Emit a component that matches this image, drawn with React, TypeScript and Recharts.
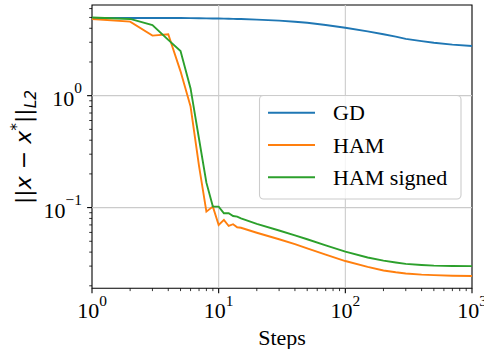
import { LineChart, Line, XAxis, YAxis, ReferenceLine, ReferenceArea } from "recharts";

const STEPS = [1, 2, 3, 4, 5, 6, 7, 8, 9, 10, 11, 12, 13, 14, 15, 20, 30, 40, 50, 70, 100, 150, 200, 250, 300, 400, 500, 700, 1000];
const GD = [4.95, 4.95, 4.95, 4.94, 4.94, 4.93, 4.92, 4.91, 4.9, 4.89, 4.88, 4.87, 4.86, 4.85, 4.84, 4.78, 4.68, 4.58, 4.48, 4.28, 4.05, 3.75, 3.54, 3.37, 3.22, 3.07, 2.97, 2.86, 2.78];
const HAM = [4.85, 4.59, 3.44, 3.54, 1.65, 0.8, 0.235, 0.092, 0.102, 0.07, 0.0776, 0.0685, 0.071, 0.0667, 0.066, 0.0596, 0.0521, 0.0472, 0.0432, 0.038, 0.0333, 0.0295, 0.0274, 0.0264, 0.0258, 0.0252, 0.0249, 0.0246, 0.0245];
const HAM_SIGNED = [5.0, 4.85, 4.28, 3.15, 2.51, 1.16, 0.41, 0.167, 0.102, 0.102, 0.089, 0.089, 0.084, 0.083, 0.08, 0.0716, 0.0624, 0.0565, 0.0521, 0.0459, 0.0404, 0.0358, 0.0336, 0.0323, 0.0314, 0.0307, 0.0303, 0.0301, 0.03];

const X_TICKS = [1, 2, 3, 4, 5, 6, 7, 8, 9, 10, 20, 30, 40, 50, 60, 70, 80, 90, 100, 200, 300, 400, 500, 600, 700, 800, 900, 1000];
const Y_TICKS = [0.02, 0.03, 0.04, 0.05, 0.06, 0.07, 0.08, 0.09, 0.1, 0.2, 0.3, 0.4, 0.5, 0.6, 0.7, 0.8, 0.9, 1, 2, 3, 4, 5, 6];
const X_DOMAIN = [1, 1000];
const Y_DOMAIN = [0.019, 6.46];

const SERIES = [
  { key: "gd", name: "GD", color: "#1f77b4" },
  { key: "ham", name: "HAM", color: "#ff7f0e" },
  { key: "hamSigned", name: "HAM signed", color: "#2ca02c" },
];

const data = STEPS.map((s, i) => ({ step: s, gd: GD[i], ham: HAM[i], hamSigned: HAM_SIGNED[i] }));

const SERIF = "'Liberation Serif', 'Times New Roman', serif";

function decade(v: number) {
  const l = Math.log10(v);
  const e = Math.round(l);
  return { e, major: Math.abs(l - e) < 1e-6 };
}

function XTick(props: any) {
  const { x, y, payload } = props;
  const { e, major } = decade(payload.value);
  return (
    <g>
      <line x1={x} x2={x} y1={y} y2={y + (major ? 4.9 : 2.8)} stroke="#000" strokeWidth={major ? 1.1 : 0.8} />
      {major && (
        <text x={x} y={y + 30} textAnchor="middle" fontFamily={SERIF} fontSize={22} fill="#000">
          10
          <tspan dy={-12.6} fontSize={15.4}>{e < 0 ? "\u2212" + -e : e}</tspan>
        </text>
      )}
    </g>
  );
}

function YTick(props: any) {
  const { x, y, payload } = props;
  const { e, major } = decade(payload.value);
  return (
    <g>
      <line x1={x} x2={x - (major ? 4.9 : 2.8)} y1={y} y2={y} stroke="#000" strokeWidth={major ? 1.1 : 0.8} />
      {major && (
        <text x={x - 10} y={y + 10} textAnchor="end" fontFamily={SERIF} fontSize={22} fill="#000">
          10
          <tspan dy={-12.6} fontSize={15.4}>{e < 0 ? "\u2212" + -e : e}</tspan>
        </text>
      )}
    </g>
  );
}

export default function App() {
  return (
    <div style={{ position: "absolute", left: 0, top: 0, width: 484, height: 349, overflow: "hidden", background: "#fff" }}>
      <LineChart width={520} height={349} data={data} margin={{ top: 5, right: 48, bottom: 0, left: 0 }}>
        <XAxis
          dataKey="step"
          type="number"
          scale="log"
          domain={X_DOMAIN}
          allowDataOverflow
          ticks={X_TICKS}
          interval={0}
          tick={<XTick />}
          tickSize={0}
          tickMargin={0}
          axisLine={false}
          height={60.7}
        />
        <YAxis
          type="number"
          scale="log"
          domain={Y_DOMAIN}
          allowDataOverflow
          ticks={Y_TICKS}
          interval={0}
          tick={<YTick />}
          tickSize={0}
          tickMargin={0}
          axisLine={false}
          width={92}
        />
        <ReferenceLine x={10} stroke="#cbcbcb" strokeWidth={1.1} />
        <ReferenceLine x={100} stroke="#cbcbcb" strokeWidth={1.1} />
        <ReferenceLine y={0.1} stroke="#cbcbcb" strokeWidth={1.1} />
        <ReferenceLine y={1} stroke="#cbcbcb" strokeWidth={1.1} />
        {SERIES.map((s) => (
          <Line
            key={s.key}
            dataKey={s.key}
            name={s.name}
            type="linear"
            stroke={s.color}
            strokeWidth={1.9}
            dot={false}
            isAnimationActive={false}
          />
        ))}
        <ReferenceArea
          x1={X_DOMAIN[0]}
          x2={X_DOMAIN[1]}
          y1={Y_DOMAIN[0]}
          y2={Y_DOMAIN[1]}
          fill="none"
          fillOpacity={0}
          stroke="#000"
          strokeWidth={1.1}
          ifOverflow="visible"
        />
      </LineChart>
      <svg width={484} height={349} style={{ position: "absolute", left: 0, top: 0, pointerEvents: "none" }}>
        <text x={282} y={344.5} textAnchor="middle" fontFamily={SERIF} fontSize={22} fill="#000">
          Steps
        </text>
        <text transform="translate(30.5,147) rotate(-90)" textAnchor="middle" fontFamily="'DejaVu Sans', sans-serif" fontSize={22} fill="#000">
          ||
          <tspan fontStyle="italic">x</tspan>
          {" \u2212 "}
          <tspan fontStyle="italic">x</tspan>
          <tspan dy={-9} fontSize={15.4}>*</tspan>
          <tspan dy={9}>||</tspan>
          <tspan dy={5} fontSize={15.4} fontStyle="italic">L2</tspan>
        </text>
        <rect x={259.5} y={95.5} width={201.5} height={103.5} rx={4} fill="#fff" fillOpacity={0.8} stroke="#cccccc" strokeWidth={1.1} />
        {SERIES.map((s, i) => (
          <g key={s.key}>
            <line x1={268} x2={315} y1={112.7 + i * 32.3} y2={112.7 + i * 32.3} stroke={s.color} strokeWidth={1.9} />
            <text x={333} y={120 + i * 32.6} fontFamily={SERIF} fontSize={22} fill="#000">
              {s.name}
            </text>
          </g>
        ))}
      </svg>
    </div>
  );
}
